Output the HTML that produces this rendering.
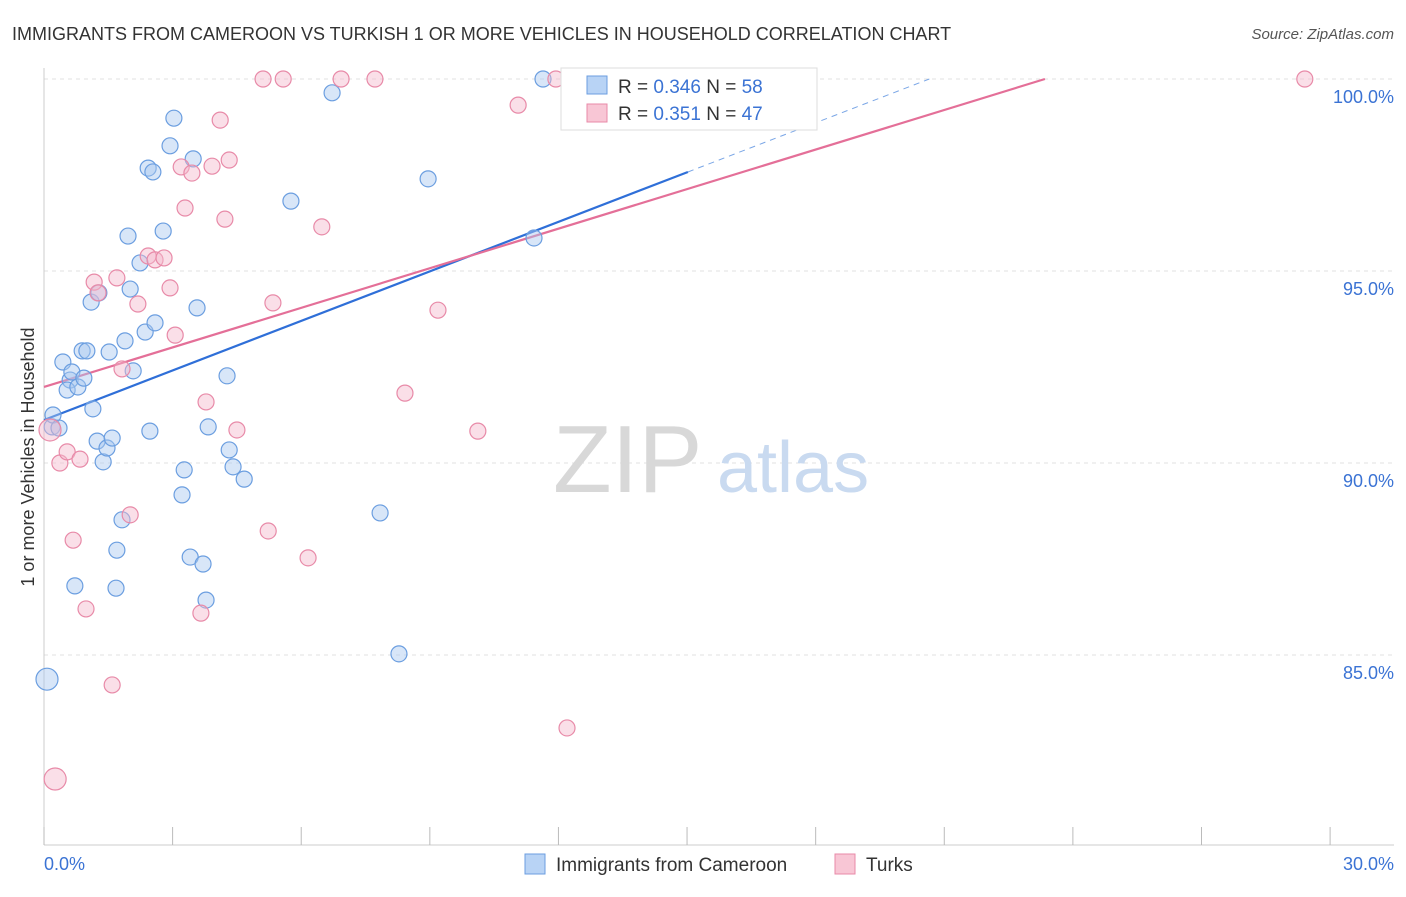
<!DOCTYPE html>
<html><head><meta charset="utf-8"><style>
body{margin:0;background:#fff;font-family:"Liberation Sans",sans-serif}
svg text{font-family:"Liberation Sans",sans-serif}
</style></head><body>
<svg id="chart" width="1406" height="892" viewBox="0 0 1406 892" xmlns="http://www.w3.org/2000/svg">
<text x="12" y="40" font-size="18" fill="#333">IMMIGRANTS FROM CAMEROON VS TURKISH 1 OR MORE VEHICLES IN HOUSEHOLD CORRELATION CHART</text>
<text x="1394" y="39" font-size="15" fill="#555" text-anchor="end" font-style="italic">Source: ZipAtlas.com</text>
<g id="grid"></g>
<g>
<text x="553" y="492" font-family="Liberation Serif,serif" font-size="96" fill="#d8d8d8">ZIP</text>
<text x="717" y="492" font-size="72" fill="#c9daf0">atlas</text>
</g>
<line x1="44" y1="68" x2="44" y2="845" stroke="#ccc"/>
<line x1="44" y1="845" x2="1394" y2="845" stroke="#ccc"/>
<g id="xticks"></g><g id="yticks"></g>
<g id="lines"></g>
<g id="points"></g>
<text transform="translate(34,457) rotate(-90)" font-size="18" fill="#333" text-anchor="middle">1 or more Vehicles in Household</text>
<text x="44" y="870" font-size="18" fill="#3b73d4">0.0%</text>
<text x="1394" y="870" font-size="18" fill="#3b73d4" text-anchor="end">30.0%</text>
<g>
<rect x="561" y="68" width="256" height="62" fill="#fff" stroke="#ddd"/>
<rect x="587" y="76" width="20" height="18" fill="#b8d3f5" stroke="#6b9ee0"/>
<text x="618" y="93" font-size="19" fill="#333">R = <tspan fill="#3b73d4">0.346</tspan>   N = <tspan fill="#3b73d4">58</tspan></text>
<rect x="587" y="104" width="20" height="18" fill="#f8c6d5" stroke="#e88aa8"/>
<text x="618" y="120" font-size="19" fill="#333">R =  <tspan fill="#3b73d4">0.351</tspan>   N = <tspan fill="#3b73d4">47</tspan></text>
</g>
<g>
<rect x="525" y="854" width="20" height="20" fill="#b8d3f5" stroke="#6b9ee0"/>
<text x="556" y="871" font-size="19" fill="#333">Immigrants from Cameroon</text>
<rect x="835" y="854" width="20" height="20" fill="#f8c6d5" stroke="#e88aa8"/>
<text x="866" y="871" font-size="19" fill="#333">Turks</text>
</g>
</svg>
<script>
const blueX=[0.07,0.19,0.21,0.35,0.44,0.61,0.54,0.65,0.72,0.79,0.89,0.93,1.00,1.10,1.14,1.24,1.28,1.38,1.47,1.52,1.59,1.70,1.68,1.82,1.89,1.96,2.01,2.08,2.24,2.36,2.43,2.47,2.54,2.59,2.78,2.94,3.03,3.22,3.27,3.41,3.48,3.57,3.71,3.78,3.83,4.27,4.32,4.41,4.67,5.76,6.72,7.84,8.28,8.96,11.43,11.64];
const blueY=[84.37,90.94,91.25,90.91,92.63,92.16,91.90,92.37,86.80,91.98,92.92,92.21,92.92,94.19,91.41,90.57,94.43,90.03,90.39,92.89,90.65,87.73,86.74,88.52,93.18,95.91,94.53,92.40,95.21,93.41,97.68,90.83,97.58,93.65,96.04,98.26,98.98,89.17,89.82,87.55,97.92,94.04,87.37,86.43,90.94,92.27,90.34,89.90,89.58,96.82,99.64,88.70,85.03,97.40,95.86,100.0];
const pinkX=[0.26,0.14,0.37,0.54,0.68,0.84,0.98,1.17,1.26,1.59,1.70,1.82,2.01,2.19,2.43,2.59,2.80,2.94,3.06,3.20,3.29,3.45,3.66,3.78,3.92,4.11,4.22,4.32,4.50,5.11,5.23,5.34,5.58,6.16,6.48,6.93,7.72,8.42,9.19,10.12,11.06,12.20,11.94,12.34,29.41];
const pinkY=[81.77,90.86,90.0,90.29,87.99,90.10,86.20,94.71,94.43,84.22,94.82,92.45,88.65,94.14,95.39,95.29,95.34,94.56,93.33,97.71,96.64,97.55,86.09,91.59,97.73,98.93,96.35,97.89,90.86,100,88.23,94.17,100,87.53,96.15,100,100,91.82,93.98,90.83,99.32,83.10,100,100,100];
const yTicks=[100,95,90,85];
const yTickLabels=["100.0%","95.0%","90.0%","85.0%"];
const xTicks=[0,3,6,9,12,15,18,21,24,27,30];
const blueLine=[91.12,0.43,15.02];   // intercept, slope, solid end
const pinkLine=[91.98,0.3435];
const X=v=>44+v*42.87, Y=v=>79+(100-v)*38.4;
const NS="http://www.w3.org/2000/svg";
function mk(t,a,p){const e=document.createElementNS(NS,t);for(const k in a)e.setAttribute(k,a[k]);p.appendChild(e);return e;}
const grid=document.getElementById('grid'),yt=document.getElementById('yticks'),xt=document.getElementById('xticks');
yTicks.forEach((v,i)=>{
 const l=mk('line',{x1:44,x2:1394,y1:Y(v),y2:Y(v),stroke:'#e2e2e2','stroke-dasharray':'4,4'},grid);
 
 
 const t=mk('text',{x:1394,y:Y(v)+24,'font-size':18,fill:'#3b73d4','text-anchor':'end'},yt);
 t.textContent=yTickLabels[i];
 
 
});
xTicks.forEach(v=>{
 const l=mk('line',{x1:X(v),x2:X(v),y1:827,y2:845,stroke:'#bbb'},xt);
 
 
});
const pts=document.getElementById('points');
function dots(xs,ys,fill,stroke,name){xs.forEach((x,i)=>{
 const big=(x<0.3&&(ys[i]<85||Math.abs(ys[i]-90.9)<0.1&&name==='pink-point'));
 const c=mk('circle',{cx:X(x),cy:Y(ys[i]),r:big?11:8,fill:fill,'fill-opacity':0.45,stroke:stroke,'stroke-width':1.2},pts);
 
 
});}
dots(blueX,blueY,'#a9c8f0','#6b9ee0','blue-point');
dots(pinkX,pinkY,'#f5b8cb','#e88aa8','pink-point');
const lg=document.getElementById('lines');
const bl=mk('line',{x1:X(0),y1:Y(blueLine[0]),x2:X(blueLine[2]),y2:Y(blueLine[0]+blueLine[1]*blueLine[2]),stroke:'#2f6fd8','stroke-width':2.2},lg);


const xe=(100-blueLine[0])/blueLine[1];
const bd=mk('line',{x1:X(blueLine[2]),y1:Y(blueLine[0]+blueLine[1]*blueLine[2]),x2:X(xe),y2:Y(100),stroke:'#7aa6e6','stroke-width':1,'stroke-dasharray':'6,5'},lg);


const pe=(100-pinkLine[0])/pinkLine[1];
const pl=mk('line',{x1:X(0),y1:Y(pinkLine[0]),x2:X(pe),y2:Y(100),stroke:'#e46f98','stroke-width':2.2},lg);


</script>
</body></html>
